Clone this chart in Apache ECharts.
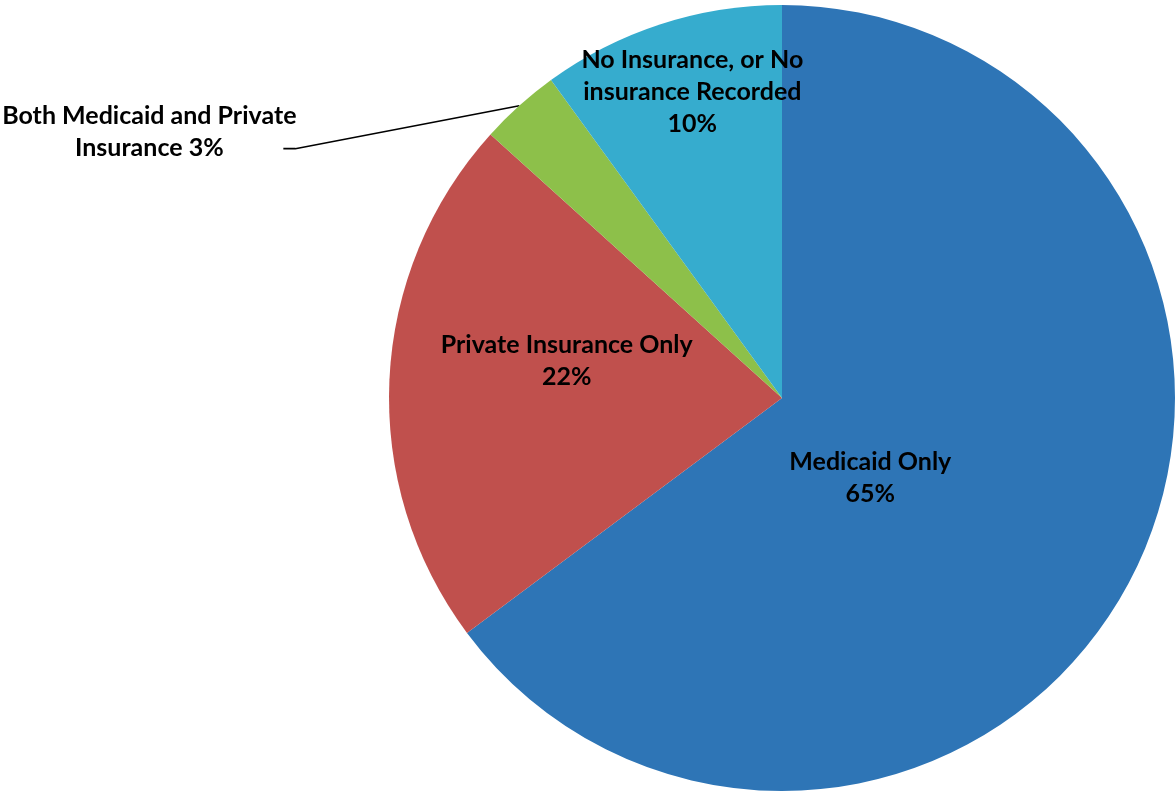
<!DOCTYPE html>
<html><head><meta charset="utf-8">
<script src="https://cdn.jsdelivr.net/npm/echarts@6/dist/echarts.min.js"></script>
<style>html,body{margin:0;padding:0;background:#fff}#c{width:1176px;height:792px}</style>
</head><body><div id="c"></div>
<script>
// Data
const categories = ['Medicaid Only', 'Private Insurance Only', 'Both Medicaid and Private\nInsurance', 'No Insurance, or No\ninsurance Recorded'];
const values = [64.8, 21.9, 3.3, 10.0];
const separators = ['\n', '\n', ' ', '\n'];
const colors = ['#2E75B6', '#C0504D', '#8DC04A', '#36ACCE'];
// label nudges relative to library default positions (style only)
const labelShift = [[-90, -10], [-16, -28], null, [-28, -116]];

const chart = echarts.init(document.getElementById('c'), null, {renderer: 'canvas'});
const data = categories.map((n, i) => ({
  name: n, value: values[i],
  itemStyle: {color: colors[i]},
  label: i === 2 ? {position: 'outside'} : {position: 'inside'},
  labelLine: {show: i === 2}
}));
chart.setOption({
  animation: false,
  backgroundColor: '#fff',
  series: [{
    type: 'pie',
    center: [782, 398],
    radius: 393,
    startAngle: 90,
    clockwise: true,
    avoidLabelOverlap: false,
    emphasis: {disabled: true},
    itemStyle: {borderWidth: 0},
    label: {
      show: true,
      color: '#000',
      fontFamily: 'Lato, "Open Sans", sans-serif',
      fontWeight: 'bold',
      fontSize: 25,
      lineHeight: 32,
      align: 'center',
      formatter: p => p.name + separators[p.dataIndex] + Math.round(p.percent) + '%'
    },
    labelLine: {show: true, lineStyle: {color: '#000', width: 1.6}, length: 10, length2: 10},
    labelLayout: function (params) {
      const i = params.dataIndex;
      const r = params.labelRect;
      if (i === 2 && params.labelLinePoints) {
        const p0 = params.labelLinePoints[0];
        return {
          x: p0[0] - 370, y: p0[1] + 26,
          align: 'center', verticalAlign: 'middle',
          labelLinePoints: [p0, [p0[0] - 224, p0[1] + 43], [p0[0] - 236, p0[1] + 43]]
        };
      }
      const s = labelShift[i];
      if (!s) return {};
      return {x: r.x + r.width / 2 + s[0], y: r.y + r.height / 2 + s[1], align: 'center', verticalAlign: 'middle'};
    },
    data: data
  }]
});
</script>
</body></html>
